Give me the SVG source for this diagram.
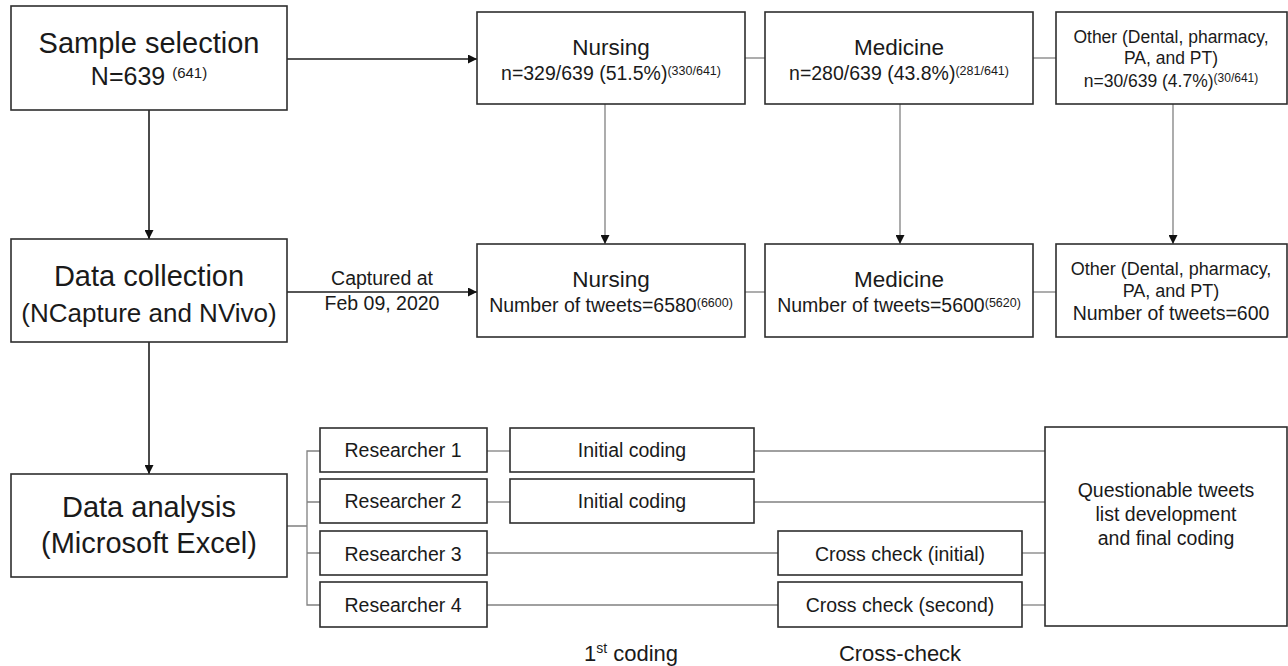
<svg xmlns="http://www.w3.org/2000/svg" width="1288" height="666" viewBox="0 0 1288 666">
<style>
text{font-family:"Liberation Sans",Arial,sans-serif;fill:#1a1a1a;text-anchor:middle}
.box{fill:#fff;stroke:#2e2e2e;stroke-width:1.6}
.main{stroke:#1e1e1e;stroke-width:1.6;fill:none}
.sub{stroke:#808080;stroke-width:1.3;fill:none}
.big{font-size:29px}
.mid{font-size:22.5px}
.sm{font-size:19.5px}
.oth{font-size:17.5px}
.sup{font-size:12.5px}
.lab{font-size:22px}
</style>
<defs>
<marker id="ah" viewBox="0 0 10 10" refX="10" refY="5" markerWidth="9" markerHeight="9" markerUnits="userSpaceOnUse" orient="auto">
<path d="M0,0 L10,5 L0,10 z" fill="#111"/>
</marker>
</defs>
<g id="connectors">
<line class="main" x1="287" y1="59" x2="477" y2="59" marker-end="url(#ah)"/>
<line class="sub" x1="745" y1="58" x2="765" y2="58"/>
<line class="sub" x1="1033" y1="58" x2="1056" y2="58"/>
<line class="main" x1="149" y1="110" x2="149" y2="239" marker-end="url(#ah)"/>
<line class="sub" x1="605" y1="104" x2="605" y2="244" marker-end="url(#ah)"/>
<line class="sub" x1="900" y1="104" x2="900" y2="244" marker-end="url(#ah)"/>
<line class="sub" x1="1173" y1="104" x2="1173" y2="244" marker-end="url(#ah)"/>
<line class="main" x1="287" y1="292" x2="477" y2="292" marker-end="url(#ah)"/>
<line class="sub" x1="745" y1="292" x2="765" y2="292"/>
<line class="sub" x1="1033" y1="292" x2="1056" y2="292"/>
<line class="main" x1="149" y1="342" x2="149" y2="474" marker-end="url(#ah)"/>
<path class="sub" d="M287,526 H307 M320,451 H307 V605 H320 M307,502 H320 M307,553 H320"/>
<line class="sub" x1="487" y1="451" x2="510" y2="451"/>
<line class="sub" x1="487" y1="502" x2="510" y2="502"/>
<line class="sub" x1="754" y1="451" x2="1045" y2="451"/>
<line class="sub" x1="754" y1="502" x2="1045" y2="502"/>
<line class="sub" x1="487" y1="553" x2="778" y2="553"/>
<line class="sub" x1="487" y1="605" x2="778" y2="605"/>
<line class="sub" x1="1022" y1="553" x2="1045" y2="553"/>
<line class="sub" x1="1022" y1="605" x2="1045" y2="605"/>
<text class="sm" x="382" y="285">Captured at</text>
<text class="sm" x="382" y="310">Feb 09, 2020</text>
</g>
<g id="sample">
<rect class="box" x="11" y="6" width="276" height="104"/>
<text class="big" x="149" y="53">Sample selection</text>
<text x="149" y="85" style="font-size:25px">N=639 <tspan style="font-size:15px" dy="-7">(641)</tspan></text>
</g>
<g id="nursing1">
<rect class="box" x="477" y="12" width="268" height="92"/>
<text class="mid" x="611" y="55">Nursing</text>
<text class="sm" x="611" y="80">n=329/639 (51.5%)<tspan class="sup" dy="-5">(330/641)</tspan></text>
</g>
<g id="medicine1">
<rect class="box" x="765" y="12" width="268" height="92"/>
<text class="mid" x="899" y="55">Medicine</text>
<text class="sm" x="899" y="80">n=280/639 (43.8%)<tspan class="sup" dy="-5">(281/641)</tspan></text>
</g>
<g id="other1">
<rect class="box" x="1056" y="12" width="231" height="92"/>
<text class="oth" x="1171" y="43">Other (Dental, pharmacy,</text>
<text class="oth" x="1171" y="64">PA, and PT)</text>
<text class="oth" x="1171" y="87">n=30/639 (4.7%)<tspan style="font-size:12px" dy="-5">(30/641)</tspan></text>
</g>
<g id="collection">
<rect class="box" x="11" y="239" width="276" height="103"/>
<text class="big" x="149" y="286">Data collection</text>
<text x="149" y="322" style="font-size:26px">(NCapture and NVivo)</text>
</g>
<g id="nursing2">
<rect class="box" x="477" y="244" width="268" height="93"/>
<text class="mid" x="611" y="287">Nursing</text>
<text class="sm" x="611" y="312">Number of tweets=6580<tspan class="sup" dy="-5">(6600)</tspan></text>
</g>
<g id="medicine2">
<rect class="box" x="765" y="244" width="268" height="93"/>
<text class="mid" x="899" y="287">Medicine</text>
<text class="sm" x="899" y="312">Number of tweets=5600<tspan class="sup" dy="-5">(5620)</tspan></text>
</g>
<g id="other2">
<rect class="box" x="1056" y="244" width="231" height="93"/>
<text x="1171" y="275" style="font-size:18px">Other (Dental, pharmacy,</text>
<text x="1171" y="297" style="font-size:18px">PA, and PT)</text>
<text class="sm" x="1171" y="320">Number of tweets=600</text>
</g>
<g id="analysis">
<rect class="box" x="11" y="474" width="276" height="103"/>
<text class="big" x="149" y="517">Data analysis</text>
<text class="big" x="149" y="553">(Microsoft Excel)</text>
</g>
<g id="r1">
<rect class="box" x="320" y="428" width="167" height="44"/>
<text class="sm" x="403" y="457">Researcher 1</text>
</g>
<g id="r2">
<rect class="box" x="320" y="479" width="167" height="44"/>
<text class="sm" x="403" y="508">Researcher 2</text>
</g>
<g id="r3">
<rect class="box" x="320" y="531" width="167" height="44"/>
<text class="sm" x="403" y="561">Researcher 3</text>
</g>
<g id="r4">
<rect class="box" x="320" y="582" width="167" height="45"/>
<text class="sm" x="403" y="612">Researcher 4</text>
</g>
<g id="init1">
<rect class="box" x="510" y="428" width="244" height="44"/>
<text class="sm" x="632" y="457">Initial coding</text>
</g>
<g id="init2">
<rect class="box" x="510" y="479" width="244" height="44"/>
<text class="sm" x="632" y="508">Initial coding</text>
</g>
<g id="cc1">
<rect class="box" x="778" y="531" width="244" height="44"/>
<text class="sm" x="900" y="561">Cross check (initial)</text>
</g>
<g id="cc2">
<rect class="box" x="778" y="582" width="244" height="45"/>
<text class="sm" x="900" y="612">Cross check (second)</text>
</g>
<g id="questionable">
<rect class="box" x="1045" y="427" width="242" height="199"/>
<text class="sm" x="1166" y="497">Questionable tweets</text>
<text class="sm" x="1166" y="521">list development</text>
<text class="sm" x="1166" y="545">and final coding</text>
</g>
<g id="labels">
<text class="lab" x="631" y="661">1<tspan style="font-size:14px" dy="-8">st</tspan><tspan dy="8"> coding</tspan></text>
<text class="lab" x="900" y="661">Cross-check</text>
</g>
</svg>
